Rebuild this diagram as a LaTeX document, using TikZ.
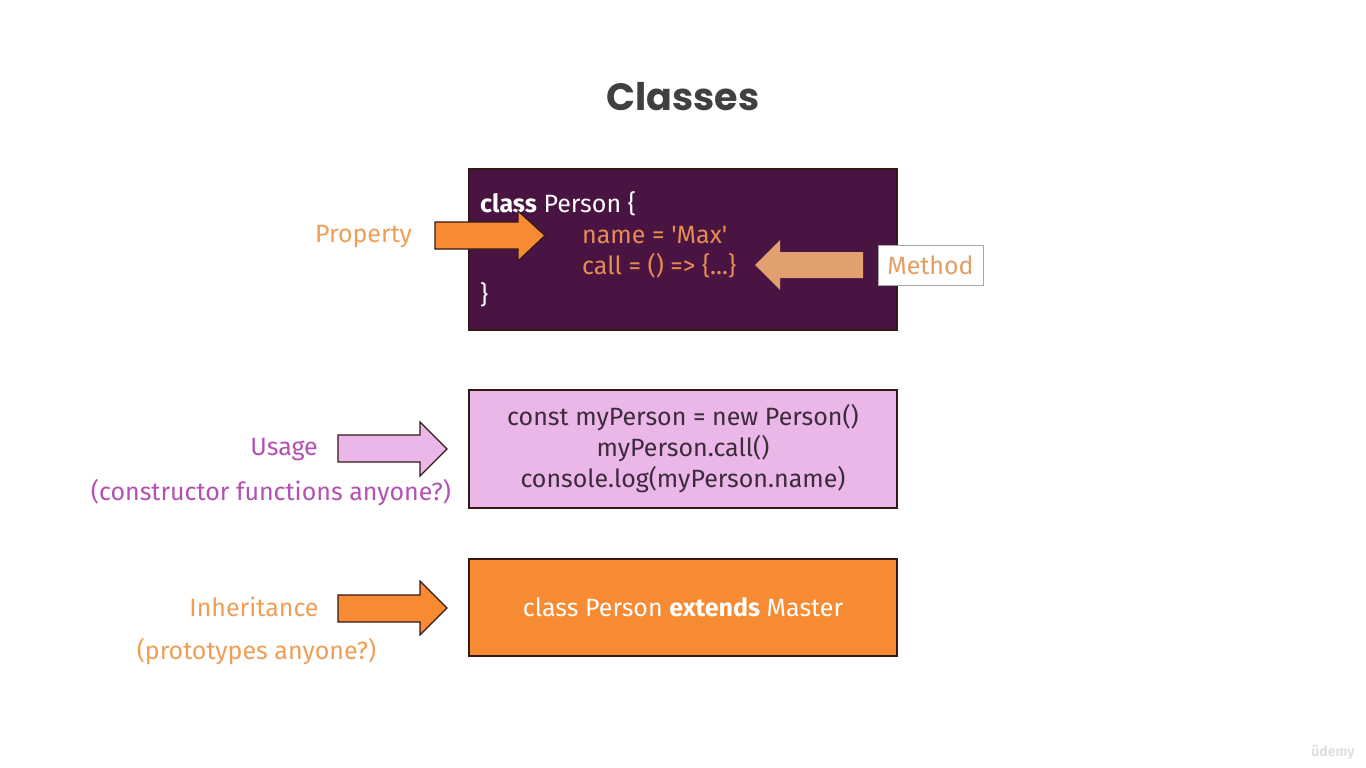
\documentclass[tikz,border=0pt]{standalone}
\usepackage{fontspec}
\setmainfont{Fira Sans}
\newfontfamily\titlefont{Poppins}[BoldFont={* Bold}]
\usetikzlibrary{positioning}
\definecolor{plum}{RGB}{74,20,66}
\definecolor{orng}{RGB}{246,139,51}
\definecolor{tan}{RGB}{225,160,110}
\definecolor{pinkbox}{RGB}{235,183,232}
\definecolor{usagecol}{RGB}{180,80,180}
\definecolor{proplabel}{RGB}{239,159,85}
\definecolor{codeorange}{RGB}{228,140,82}
\definecolor{darktext}{RGB}{59,43,59}
\definecolor{outline}{RGB}{50,25,20}
\definecolor{titlegray}{RGB}{64,64,64}
\tikzset{
  box/.style={draw=outline, line width=1.2pt, inner sep=0pt},
  txt/.style={inner sep=0pt, font=\fontsize{25}{30}\selectfont},
  fatarrow/.style={draw=outline, line width=1.2pt, line join=miter},
}
\begin{document}
\begin{tikzpicture}[x=1pt,y=-1pt]
\useasboundingbox[fill=white] (0,0) rectangle (1366,768);

% title
\node[inner sep=0pt, text=titlegray, font=\titlefont\bfseries\fontsize{38}{44}\selectfont] (title) at (683,97) {Classes};

% boxes
\node[box, fill=plum, minimum width=428pt, minimum height=161pt] (classbox) at (683,249.5) {};
\node[box, fill=pinkbox, minimum width=428pt, minimum height=118pt] (usagebox) at (683,449) {};
\node[box, fill=orng, minimum width=428pt, minimum height=97pt] (inhbox) at (683,607.5) {};

% class code
\node[txt, anchor=west, text=white] (l1) at (480,204) {\textbf{class} Person \{};
\node[txt, anchor=west, text=codeorange] (l2) at (582,235) {name = \textquotesingle Max\textquotesingle};
\node[txt, anchor=west, text=codeorange] (l3) at (582,266) {call = () => \{...\}};
\node[txt, anchor=west, text=white] (l4) at (480,295) {\}};

% usage code
\node[txt, text=darktext] (u1) at (683,418) {const myPerson = new Person()};
\node[txt, text=darktext] (u2) at (683,449) {myPerson.call()};
\node[txt, text=darktext] (u3) at (683,480) {console.log(myPerson.name)};

% inheritance code
\node[txt, text=white] (i1) at (683,607) {class Person \textbf{extends} Master};

% labels
\node[txt, text=proplabel] (prop) at (363.5,237) {Property};
\node[txt, draw=gray!70, line width=1pt, text=tan!90!orange, minimum width=105pt, minimum height=40pt, fill=white] (method) at (930.5,265) {Method};
\node[txt, text=usagecol, anchor=east] (usage) at (318,450) {Usage};
\node[txt, text=usagecol] (usage2) at (271,493) {(constructor functions anyone?)};
\node[txt, text=proplabel] (inh) at (254,607) {Inheritance};
\node[txt, text=proplabel] (inh2) at (256.5,652) {(prototypes anyone?)};

% arrows
\draw[fatarrow, fill=orng] (435,222) -- (518,222) -- (518,211) -- (545,235.5) -- (518,261) -- (518,249) -- (435,249) -- cycle;
\fill[tan] (863,252) -- (780,252) -- (780,240) -- (755,265) -- (780,290) -- (780,278) -- (863,278) -- cycle;
\draw[fatarrow, fill=pinkbox] (338,435) -- (420,435) -- (420,422) -- (447,449) -- (420,476) -- (420,462) -- (338,462) -- cycle;
\draw[fatarrow, fill=orng] (338,595) -- (420,595) -- (420,581) -- (447,608) -- (420,635) -- (420,622) -- (338,622) -- cycle;

% watermark
\node[inner sep=0pt, text=black!12, font=\bfseries\fontsize{14}{16}\selectfont] (wm) at (1333,752) {ûdemy};
\end{tikzpicture}
\end{document}
